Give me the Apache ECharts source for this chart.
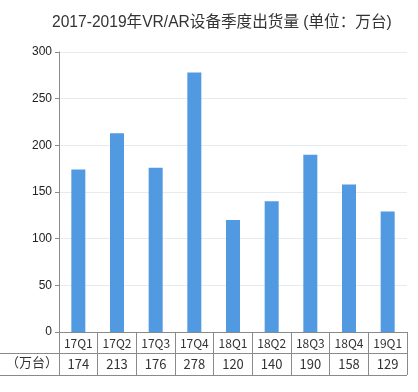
<!DOCTYPE html>
<html><head><meta charset="utf-8">
<script src="https://cdn.jsdelivr.net/npm/echarts@6/dist/echarts.min.js"></script>
<style>html,body{margin:0;padding:0;background:#fff}#c{width:418px;height:392px}</style>
</head><body><div id="c"></div>
<script>
const categories = ['17Q1','17Q2','17Q3','17Q4','18Q1','18Q2','18Q3','18Q4','19Q1'];
const values = [174, 213, 176, 278, 120, 140, 190, 158, 129];
const yTicks = [0, 50, 100, 150, 200, 250, 300];
const titleText = '2017-2019年VR/AR设备季度出货量 (单位：万台)';
const unitLabel = '（万台）';

const chart = echarts.init(document.getElementById('c'));
const cjk = '"Noto Sans CJK SC", "Microsoft YaHei", sans-serif';
chart.setOption({
  animation: false,
  title: {
    text: titleText, left: 47, top: 10,
    textStyle: {fontSize: 15.6, fontWeight: 'normal', color: '#333', fontFamily: '"Liberation Sans", ' + cjk}
  },
  grid: {left: 59, right: 11, top: 52, bottom: 60},
  xAxis: [{
    type: 'category', data: categories, position: 'bottom',
    axisLine: {lineStyle: {color: '#8a8a8a', width: 1}},
    axisTick: {show: true, alignWithLabel: false, length: 43, lineStyle: {color: '#8a8a8a'}},
    axisLabel: {color: '#333', fontSize: 12, margin: 5, fontFamily: cjk}
  }, {
    type: 'category', data: values.map(String), position: 'bottom', offset: 21,
    axisLine: {show: false}, axisTick: {show: false},
    axisLabel: {color: '#333', fontSize: 13, margin: 5, fontFamily: cjk}
  }],
  yAxis: {
    type: 'value', min: yTicks[0], max: yTicks[yTicks.length - 1], interval: 50,
    axisLine: {show: true, lineStyle: {color: '#8a8a8a'}},
    axisTick: {show: true, inside: false, length: 4, lineStyle: {color: '#8a8a8a'}},
    axisLabel: {color: '#222', fontSize: 12, margin: 7, fontFamily: '"Liberation Sans", Arial, sans-serif'},
    splitLine: {lineStyle: {color: '#e4ecf0'}}
  },
  series: [{
    type: 'bar', data: values, xAxisIndex: 0, barWidth: 14,
    itemStyle: {color: '#5199e1'}
  }],
  graphic: [
    {type: 'line', shape: {x1: 0, y1: 353.5, x2: 407, y2: 353.5}, style: {stroke: '#8a8a8a', lineWidth: 1}},
    {type: 'line', shape: {x1: 0, y1: 375.5, x2: 407, y2: 375.5}, style: {stroke: '#8a8a8a', lineWidth: 1}},
    {type: 'text', left: 6, top: 356, style: {text: unitLabel, fill: '#333', font: '13px ' + cjk}}
  ]
});
</script></body></html>
